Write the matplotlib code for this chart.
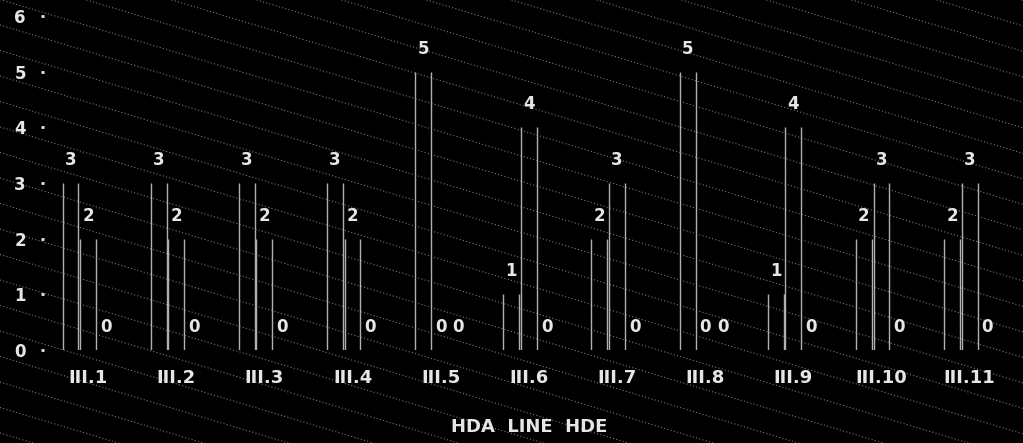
import matplotlib.pyplot as plt
import numpy as np

categories = ["III.1", "III.2", "III.3", "III.4", "III.5", "III.6",
              "III.7", "III.8", "III.9", "III.10", "III.11"]
series_a = [3, 3, 3, 3, 5, 1, 2, 5, 1, 2, 2]
series_b = [2, 2, 2, 2, 0, 4, 3, 0, 4, 3, 3]
series_c = [0, 0, 0, 0, 0, 0, 0, 0, 0, 0, 0]
y_ticks = [0, 1, 2, 3, 4, 5, 6]
x_title = "HDA  LINE  HDE"

BG = "black"
EDGE = "#b0b0b0"
TEXT = "#e6e6e6"

fig = plt.figure(figsize=(10.23, 4.43), dpi=100, facecolor=BG)

# faint dotted diagonal texture across the whole canvas
bg = fig.add_axes([0, 0, 1, 1], zorder=0)
bg.set_xlim(0, 1023)
bg.set_ylim(443, 0)
bg.axis("off")
xs = np.array([0, 1023])
for k in range(-13, 18):
    y0 = -0.5 + 25.5 * k
    bg.plot(xs, y0 + 0.3 * xs, color="#7a7a7a", lw=0.8, ls=(0, (1, 2)))

ax = fig.add_axes([0.043, 0.21, 0.948, 0.754], zorder=1)
ax.set_facecolor("none")

x = np.arange(len(categories))
width = 0.18
for offset, values in zip([-0.2, 0.0, 0.2], [series_a, series_b, series_c]):
    bars = ax.bar(x + offset, values, width, color="none", linewidth=0)
    for patch, v in zip(bars.patches, values):
        left = patch.get_x()
        right = left + patch.get_width()
        if v > 0:
            ax.vlines([left, right], 0, v, color=EDGE, lw=1)
        ax.annotate(str(v), (left + patch.get_width() / 2, v),
                    xytext=(0, 10), textcoords="offset points",
                    ha="center", va="bottom", color=TEXT, fontsize=12,
                    fontweight="bold")

ax.set_xlim(-0.5, len(categories) - 0.5)
ax.set_ylim(0, 6)
ax.set_yticks(y_ticks)
ax.set_xticks(x)
ax.set_xticklabels(categories, fontweight="bold")
for lbl in ax.get_yticklabels():
    lbl.set_fontweight("bold")
for side in ["top", "right", "left", "bottom"]:
    ax.spines[side].set_visible(False)
ax.tick_params(axis="y", colors=TEXT, length=2, width=2, pad=11, labelsize=12)
ax.tick_params(axis="x", colors=TEXT, length=0, pad=14, labelsize=13)
ax.set_xlabel(x_title, color=TEXT, fontsize=13, fontweight="bold", labelpad=22)

fig.savefig("out.png", dpi=100, facecolor=BG)
